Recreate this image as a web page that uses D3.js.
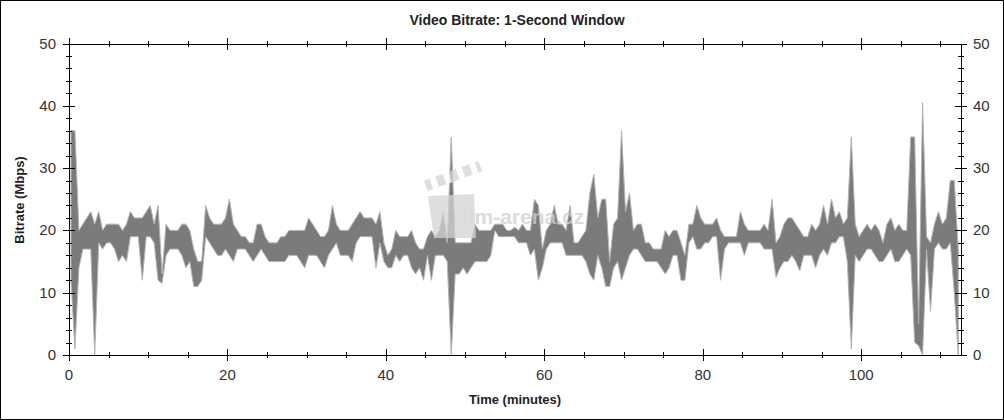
<!DOCTYPE html>
<html><head><meta charset="utf-8">
<script src="https://cdn.jsdelivr.net/npm/d3@7/dist/d3.min.js"></script>
<style>body{margin:0;background:#fff}svg{display:block}text{font-family:Arial,"Liberation Sans",sans-serif}</style>
</head><body><svg id="c" width="1004" height="420"></svg>
<script>
// bin width 0.5 min; value = upper / lower envelope of 1-s bitrate (Mbps) inside each bin
const binMinutes = 0.5;
const bitrateHigh = [36,36,20,21,22,23,21,23,20,21,
21,21,21,20,21,23,22,22,22,23,
24,21,24,13,21,20,20,20,21,21,
20,17,15,15,24,22,21,21,21,22,
25,21,20,19,19,18,18,21,21,19,
18,18,18,19,19,20,20,20,20,20,
22,21,20,19,19,20,24,21,20,20,
20,21,22,23,22,22,22,21,23,18,
16,17,20,19,19,19,20,18,17,17,
19,20,19,20,23,18,35,18,18,18,
18,18,21,20,20,20,20,21,21,21,
20,20,20.5,20,21,20,20,25,24,17,
20,21,24,21,21,20,24,18,18,19,
20,26,29,22,25,25,15,21,22,36,
23,26,20,21,21,18,18,17,17,17,
20,19,20,20,18,16,21,21,24,22,
21,21,21,22,20,19,19,19,19,23,
21,20,20,20,20,21,20,25,18,19,
21,22,22,21,20,19,19,21,20,21,
24,21,25,22,23,21,22,35,21,19,
20,21,20,21,20,18,21,22,20,21,
20,20,35,35,5,40.5,19,18,21,23,
21,22,28,28,17];
const bitrateLow = [12,1,14,17,17,17,0,18,17,18,
18,17,15,16,15,19,19,19,12,19,
19,18,12,11.5,16,17,17,17,16,14,
15,11,11,12,19,18,17,16,16,17,
16,15,17,17,17,16,15,16,17,16,
15,15,15,15,15,16,16,16,15,14,
16,16,16,15,14,16,17,18,16,16,
16,15,18,19,19,19,19,14,18,15,
14,14,16,15,16,16,14,13,14,12,
16,12,16,16,16,15,0,13,13,14,
13,14,15,15,15,15,16,20,19,19,
19,19,19,18,18,18,16,17,12,14,
17,18,18,18,18,16,16,16,16,16,
15,13,12,16,14,11,11,14,15,12,
14,16,17,17,16,15,15,15,15,14,
13,14,16,16,12,12,18,19,17,17,
18,18,19,19,12,17,18,18,18,18,
16,18,18,18,18,17,17,17,12.5,14,
15,15,16,15,13.5,16,16,16,14,16,
17,16,18,18,19,19,15,1,16,15,
16,17,17,16,15,15,16,17,15,15,
16,17,16,2,1.5,0,17,7,17,18,
17,17,18,10,0];
const xMajorTicks = [0,20,40,60,80,100];
const yMajorTicks = [0,10,20,30,40,50];
const titleText = "Video Bitrate: 1-Second Window";
const xLabel = "Time (minutes)";
const yLabel = "Bitrate (Mbps)";
const watermark = "Film-arena.cz";

const svg = d3.select("#c");
const L=69, R=961, T=43.5, B=355;
const x = d3.scaleLinear().domain([0,112.6]).range([L,R]);
const y = d3.scaleLinear().domain([0,50]).range([B,T]);

svg.append("rect").attr("x",0.5).attr("y",0.5).attr("width",1003).attr("height",419)
  .attr("fill","#fff").attr("stroke","#000");

// data band (min/max envelope of the 1-s samples in each bin)
const data = bitrateHigh.map((h,i)=>({t:i*binMinutes+binMinutes/2,hi:h,lo:bitrateLow[i]}));
svg.append("path").datum(data)
  .attr("d",d3.area().x(d=>x(d.t)).y0(d=>y(d.lo)).y1(d=>y(d.hi)))
  .attr("fill","#7b7b7b").attr("stroke","#b3b3b3").attr("stroke-width",1);

// watermark (semi-transparent, on top of the data)
const wm = svg.append("g").attr("opacity",0.75);
wm.append("path").attr("d","M428,196 L474,194 L476,238 L434,238 Z").attr("fill","#d4d4d4");
wm.append("g").attr("transform","translate(428,192) rotate(-20)")
  .call(g=>{g.append("rect").attr("x",0).attr("y",-12).attr("width",58).attr("height",11).attr("fill","#d4d4d4");
    [6,20,34,48].forEach(s=>g.append("rect").attr("x",s).attr("y",-12).attr("width",6).attr("height",11).attr("fill","#fff"));});
wm.append("text").attr("x",450).attr("y",224).attr("font-size",21).attr("font-weight","bold")
  .attr("fill","#d0d0d0").text(watermark);

// axes
const yMinor = d3.range(0,51,2);
const xMinor = d3.range(0,113,5);
const ax = svg.append("g").attr("stroke","#000").attr("shape-rendering","crispEdges");
ax.append("line").attr("x1",L).attr("x2",L).attr("y1",T).attr("y2",B);
ax.append("line").attr("x1",R).attr("x2",R).attr("y1",T).attr("y2",B);
ax.append("line").attr("x1",L-6).attr("x2",R+6).attr("y1",Math.round(T)).attr("y2",Math.round(T));
ax.append("line").attr("x1",L-6).attr("x2",R+6).attr("y1",B).attr("y2",B);
yMinor.forEach(v=>{
  const big = v%10===0, w = big?6:3;
  ax.append("line").attr("x1",L-w).attr("x2",L+w).attr("y1",Math.round(y(v))).attr("y2",Math.round(y(v)));
  ax.append("line").attr("x1",R-w).attr("x2",R+w).attr("y1",Math.round(y(v))).attr("y2",Math.round(y(v)));
});
xMinor.forEach(v=>{
  const big = v%20===0, w = big?6:3;
  const px = Math.round(x(v));
  ax.append("line").attr("x1",px).attr("x2",px).attr("y1",B-w).attr("y2",B+w);
  ax.append("line").attr("x1",px).attr("x2",px).attr("y1",Math.round(T)-w).attr("y2",Math.round(T)+w);
});
const lab = svg.append("g").attr("font-size",15).attr("fill","#333");
yMajorTicks.forEach(v=>{
  lab.append("text").attr("x",56).attr("y",y(v)+5).attr("text-anchor","end").text(v);
  lab.append("text").attr("x",973).attr("y",y(v)+5).attr("text-anchor","start").text(v);
});
xMajorTicks.forEach(v=>{
  lab.append("text").attr("x",x(v)).attr("y",380).attr("text-anchor","middle").text(v);
});

svg.append("text").attr("x",517).attr("y",25).attr("text-anchor","middle")
  .attr("font-size",14).attr("font-weight","bold").attr("fill","#222").text(titleText);
svg.append("text").attr("x",515).attr("y",404).attr("text-anchor","middle")
  .attr("font-size",13).attr("font-weight","bold").attr("fill","#222").text(xLabel);
svg.append("text").attr("transform","translate(24,200) rotate(-90)").attr("text-anchor","middle")
  .attr("font-size",13).attr("font-weight","bold").attr("fill","#222").text(yLabel);
</script></body></html>
